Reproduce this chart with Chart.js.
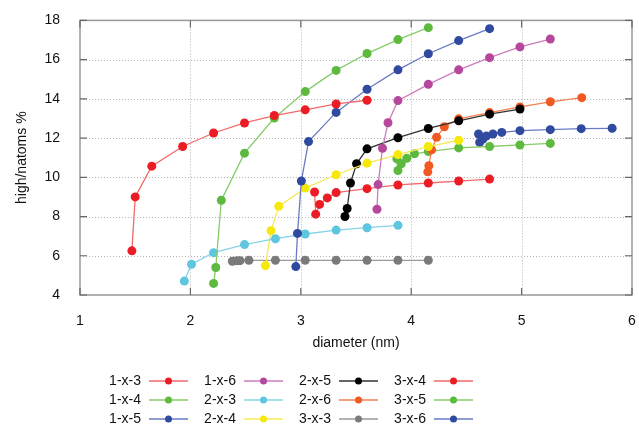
<!DOCTYPE html>
<html>
<head>
<meta charset="utf-8">
<script src="https://cdn.jsdelivr.net/npm/chart.js@4"></script>
<style>
  html, body { margin: 0; padding: 0; background: #fff; }
  #wrap { width: 639px; height: 427px; }
</style>
</head>
<body>
<div id="wrap"><canvas id="chart" width="639" height="427"></canvas></div>
<script>
// values
const xTicks = [1, 2, 3, 4, 5, 6];
const yTicks = [4, 6, 8, 10, 12, 14, 16, 18];

const x13 = [1.47, 1.50, 1.65, 1.93, 2.21, 2.49, 2.76, 3.04, 3.32, 3.60];
const y13 = [6.25, 9.0, 10.57, 11.57, 12.26, 12.77, 13.15, 13.44, 13.74, 13.93];

const x14 = [2.21, 2.23, 2.28, 2.49, 2.76, 3.04, 3.32, 3.60, 3.88, 4.155];
const y14 = [4.59, 5.4, 8.83, 11.23, 13.02, 14.37, 15.45, 16.31, 17.02, 17.63];

const x15 = [2.955, 2.97, 3.005, 3.07, 3.32, 3.60, 3.88, 4.155, 4.43, 4.71];
const y15 = [5.45, 7.14, 9.81, 11.82, 13.31, 14.49, 15.48, 16.30, 16.97, 17.58];

const x16 = [3.69, 3.70, 3.74, 3.79, 3.88, 4.155, 4.43, 4.71, 4.985, 5.26];
const y16 = [8.37, 9.63, 11.48, 12.78, 13.91, 14.74, 15.48, 16.1, 16.65, 17.05];

const x23 = [1.945, 2.01, 2.21, 2.49, 2.77, 3.04, 3.32, 3.60, 3.88];
const y23 = [4.71, 5.57, 6.16, 6.57, 6.87, 7.11, 7.31, 7.43, 7.55];

const x24 = [2.68, 2.73, 2.80, 3.04, 3.32, 3.60, 3.88, 4.155, 4.43];
const y24 = [5.50, 7.28, 8.52, 9.45, 10.13, 10.72, 11.16, 11.57, 11.89];

const x25 = [3.40, 3.42, 3.45, 3.505, 3.60, 3.88, 4.155, 4.43, 4.71, 4.985];
const y25 = [8.0, 8.41, 9.71, 10.69, 11.45, 12.02, 12.49, 12.88, 13.22, 13.48];

const x26 = [4.15, 4.16, 4.185, 4.23, 4.30, 4.43, 4.71, 4.985, 5.26, 5.545];
const y26 = [10.28, 10.59, 11.40, 12.04, 12.58, 12.98, 13.30, 13.59, 13.85, 14.06];

const x33 = [2.38, 2.42, 2.45, 2.53, 2.77, 3.04, 3.32, 3.60, 3.88, 4.155];
const y33 = [5.72, 5.74, 5.75, 5.77, 5.77, 5.77, 5.77, 5.77, 5.77, 5.77];

const x34 = [3.125, 3.135, 3.17, 3.24, 3.32, 3.60, 3.88, 4.155, 4.43, 4.71];
const y34 = [9.25, 8.12, 8.62, 8.95, 9.22, 9.42, 9.61, 9.71, 9.81, 9.91];

const x35 = [3.87, 3.88, 3.91, 3.96, 4.03, 4.155, 4.43, 4.71, 4.985, 5.26];
const y35 = [10.94, 10.35, 10.69, 10.97, 11.20, 11.31, 11.50, 11.57, 11.65, 11.73];

const x36 = [4.61, 4.62, 4.65, 4.68, 4.74, 4.82, 4.985, 5.26, 5.54, 5.82];
const y36 = [12.21, 11.78, 11.95, 12.10, 12.21, 12.29, 12.38, 12.43, 12.48, 12.50];

const names = ['1-x-3', '1-x-4', '1-x-5', '1-x-6', '2-x-3', '2-x-4', '2-x-5', '2-x-6', '3-x-3', '3-x-4', '3-x-5', '3-x-6'];
const xs = [x13, x14, x15, x16, x23, x24, x25, x26, x33, x34, x35, x36];
const ys = [y13, y14, y15, y16, y23, y24, y25, y26, y33, y34, y35, y36];
const dotColors = ['#ec1c24', '#5dba3f', '#2f4a9f', '#b6489b', '#5fc6df', '#f7e80c', '#000000', '#f05a22', '#7a7a7a', '#ec1c24', '#5dba3f', '#2f4a9f'];
const lineColors = ['#f26a6a', '#86cc68', '#6a7bc4', '#cc7cbd', '#86d4e8', '#f6e85a', '#333333', '#f3804f', '#9a9a9a', '#f26a6a', '#86cc68', '#6a7bc4'];

const FONT = '"Liberation Sans", Arial, sans-serif';

const datasets = names.map((n, i) => ({
    label: n,
    data: xs[i].map((v, k) => ({ x: v, y: ys[i][k] })),
    showLine: true,
    borderColor: lineColors[i],
    borderWidth: 1.3,
    backgroundColor: dotColors[i],
    pointBackgroundColor: dotColors[i],
    pointBorderColor: dotColors[i],
    pointBorderWidth: 0,
    pointRadius: 4.5,
    tension: 0
}));

// dotted grid, frame with inward tick marks, like the original plot
const framePlugin = {
    id: 'frame',
    beforeDatasetsDraw(chart) {
        const { ctx, chartArea: a, scales: { x, y } } = chart;
        ctx.save();
        ctx.strokeStyle = '#b4b4b4';
        ctx.lineWidth = 1;
        ctx.setLineDash([1, 2]);
        ctx.beginPath();
        xTicks.slice(1, -1).forEach(v => {
            const px = Math.round(x.getPixelForValue(v)) + 0.5;
            ctx.moveTo(px, a.top); ctx.lineTo(px, a.bottom);
        });
        yTicks.slice(1, -1).forEach(v => {
            const py = Math.round(y.getPixelForValue(v)) + 0.5;
            ctx.moveTo(a.left, py); ctx.lineTo(a.right, py);
        });
        ctx.stroke();
        ctx.setLineDash([]);

        ctx.strokeStyle = '#999';
        ctx.lineWidth = 1.5;
        ctx.strokeRect(a.left, a.top, a.right - a.left, a.bottom - a.top);
        ctx.strokeStyle = '#666';
        ctx.lineWidth = 1.2;
        ctx.beginPath();
        xTicks.forEach(v => {
            const px = x.getPixelForValue(v);
            ctx.moveTo(px, a.bottom); ctx.lineTo(px, a.bottom - 7);
            ctx.moveTo(px, a.top); ctx.lineTo(px, a.top + 7);
        });
        yTicks.forEach(v => {
            const py = y.getPixelForValue(v);
            ctx.moveTo(a.left, py); ctx.lineTo(a.left + 7, py);
            ctx.moveTo(a.right, py); ctx.lineTo(a.right - 7, py);
        });
        ctx.stroke();
        ctx.restore();
    },
    afterDraw(chart) {
        const { ctx, chartArea: a } = chart;
        ctx.save();
        ctx.fillStyle = '#111';
        ctx.font = '14px ' + FONT;
        ctx.textAlign = 'center';
        ctx.textBaseline = 'middle';
        ctx.fillText('diameter (nm)', 356, 343);
        ctx.save();
        ctx.translate(22, (a.top + a.bottom) / 2);
        ctx.rotate(-Math.PI / 2);
        ctx.fillText('high/natoms %', 0, 0);
        ctx.restore();

        // legend: text first, then a line sample with a dot
        const colText = [141, 236, 331, 426];
        const rows = [381, 400, 419];
        names.forEach((n, i) => {
            const c = Math.floor(i / 3), r = i % 3;
            const ty = rows[r];
            ctx.textAlign = 'right';
            ctx.fillStyle = '#111';
            ctx.fillText(n, colText[c], ty);
            const lx = colText[c] + 8;
            ctx.strokeStyle = lineColors[i];
            ctx.lineWidth = 1.5;
            ctx.beginPath();
            ctx.moveTo(lx, ty); ctx.lineTo(lx + 39, ty);
            ctx.stroke();
            ctx.fillStyle = dotColors[i];
            ctx.beginPath();
            ctx.arc(lx + 19.5, ty, 3.5, 0, Math.PI * 2);
            ctx.fill();
        });
        ctx.restore();
    }
};

const ctx = document.getElementById('chart').getContext('2d');
const chart = new Chart(ctx, {
    type: 'scatter',
    data: { datasets: datasets },
    options: {
        responsive: false,
        animation: false,
        layout: { padding: { top: 19, right: 0, left: 0, bottom: 0 } },
        plugins: {
            legend: { display: false },
            tooltip: { enabled: false }
        },
        scales: {
            x: {
                type: 'linear',
                min: 1,
                max: 6,
                afterFit: s => { s.height = 132; s.paddingRight = 7; },
                afterBuildTicks: s => { s.ticks = xTicks.map(v => ({ value: v })); },
                grid: { display: false },
                border: { display: false },
                ticks: {
                    padding: 10,
                    color: '#111',
                    font: { family: FONT, size: 14 }
                }
            },
            y: {
                type: 'linear',
                min: 4,
                max: 18,
                afterFit: s => { s.width = 80; },
                afterBuildTicks: s => { s.ticks = yTicks.map(v => ({ value: v })); },
                grid: { display: false },
                border: { display: false },
                ticks: {
                    padding: 12,
                    color: '#111',
                    font: { family: FONT, size: 14 }
                }
            }
        }
    },
    plugins: [framePlugin]
});
</script>
</body>
</html>
